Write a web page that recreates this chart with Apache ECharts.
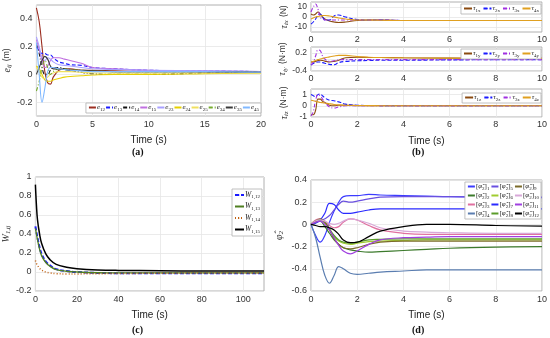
<!DOCTYPE html>
<html><head><meta charset="utf-8">
<script src="https://cdn.jsdelivr.net/npm/echarts@6/dist/echarts.min.js"></script>
<style>html,body{margin:0;padding:0;background:#fff}#c{width:550px;height:338px}</style>
</head><body><div id="c"></div>
<script>
// ---------- Panel (a) data ----------
const tA = [0, 0.25, 0.5, 0.75, 1, 1.25, 1.5, 2, 2.5, 3, 4, 5, 7, 10, 15, 20];
const e12 = [0.48, 0.38, 0.2, 0.02, -0.06, -0.07, -0.02, 0.03, 0.04, 0.04, 0.03, 0.03, 0.025, 0.022, 0.02, 0.02];
const e13 = [0.2, 0.17, 0.15, 0.15, 0.14, 0.14, 0.12, 0.09, 0.08, 0.07, 0.065, 0.05, 0.04, 0.03, 0.025, 0.02];
const e14 = [0.22, 0.15, 0.05, 0.0, 0.0, 0.03, 0.05, 0.05, 0.04, 0.03, 0.015, 0.005, 0.0, 0.0, 0.01, 0.015];
const e15 = [0.25, 0.18, 0.1, 0.05, 0.06, 0.1, 0.12, 0.12, 0.11, 0.1, 0.08, 0.05, 0.04, 0.03, 0.025, 0.02];
const e23 = [0.27, 0.2, 0.12, 0.1, 0.12, 0.11, 0.09, 0.07, 0.065, 0.06, 0.05, 0.04, 0.035, 0.03, 0.025, 0.02];
const e24 = [0.06, 0.04, 0.0, -0.04, -0.05, -0.05, -0.04, -0.03, -0.02, -0.015, -0.01, -0.005, 0, 0, 0.005, 0.01];
const e25 = [0.05, 0.02, -0.02, -0.03, -0.02, 0.0, 0.01, 0.02, 0.02, 0.02, 0.015, 0.01, 0.01, 0.01, 0.01, 0.01];
const e34 = [-0.12, -0.05, 0.05, 0.1, 0.05, 0.0, 0.02, 0.04, 0.04, 0.035, 0.03, 0.025, 0.02, 0.02, 0.02, 0.015];
const e35 = [0.0, 0.05, 0.1, 0.13, 0.11, 0.06, 0.04, 0.04, 0.035, 0.03, 0.03, 0.025, 0.02, 0.02, 0.02, 0.015];
const e45 = [0.23, 0.0, -0.2, -0.1, 0.02, 0.05, 0.05, 0.04, 0.035, 0.03, 0.025, 0.02, 0.02, 0.02, 0.02, 0.015];
const yTicksA = [-0.2, 0, 0.2, 0.4];

// ---------- Panel (b) data ----------
const tB = [0, 0.1, 0.2, 0.3, 0.4, 0.5, 0.6, 0.8, 1.0, 1.2, 1.5, 2, 2.5, 3, 4, 6, 10];
const tau1x = [3, 2, 3, 5, 3, 0, -2, -4, -5, -5.5, -5, -3.5, -3, -3, -3.5, -3.5, -3.5];
const tau2x = [-7, -5, -2, 2, 3, 0, -3, -3, 1, 2, 0, -2.5, -3, -3, -3.5, -3.5, -3.5];
const tau3x = [5, 10, 13, 8, 0, -2, -3, -3, -3, -3, -3, -3, -3, -3, -3.5, -3.5, -3.5];
const tau4x = [-2, -1, 0, 0.5, 1, 1.5, 1.5, 1, 0, -1, -2, -3, -3, -3.2, -3.5, -3.5, -3.5];
const tau1y = [-0.1, -0.1, -0.08, -0.05, -0.04, -0.05, -0.07, -0.1, -0.08, -0.04, 0.04, 0.06, 0.05, 0.05, 0.04, 0.03, 0.02];
const tau2y = [-0.2, -0.15, -0.12, -0.1, -0.1, -0.12, -0.14, -0.18, -0.19, -0.12, -0.08, -0.06, -0.05, -0.04, -0.04, -0.03, -0.02];
const tau3y = [-0.2, -0.1, 0.1, 0.3, 0.28, 0.1, 0.0, -0.08, -0.06, -0.03, -0.02, -0.02, -0.02, -0.02, -0.02, -0.02, -0.02];
const tau4y = [-0.1, -0.08, -0.05, -0.02, 0.0, 0.02, 0.04, 0.07, 0.1, 0.12, 0.12, 0.08, 0.06, 0.05, 0.04, 0.03, 0.02];
const tau1z = [-0.8, -0.8, -0.4, 0.6, 0.6, 0.4, 0.3, 0.05, 0.0, 0.05, 0.05, 0.02, 0, 0, 0, 0, 0];
const tau2z = [1.0, 0.9, 0.8, 1.0, 1.05, 0.9, 0.7, 0.5, 0.45, 0.35, 0.15, 0.05, 0.03, 0.02, 0.02, 0, 0];
const tau3z = [-0.9, -0.5, 0.5, 1.0, 0.9, 0.6, 0.3, -0.1, -0.2, -0.1, 0.0, 0.02, 0, 0, 0, 0, 0];
const tau4z = [0.5, 0.45, 0.4, 0.35, 0.3, 0.28, 0.25, 0.18, 0.12, 0.08, 0.05, 0.03, 0.02, 0.01, 0, 0, 0];
const yTicksB1 = [-10, 0, 10];
const yTicksB2 = [-0.4, -0.2, 0, 0.2];
const yTicksB3 = [-1, 0, 1];

// ---------- Panel (c) data ----------
const tC = [0, 0.5, 1, 2, 3, 5, 7, 10, 15, 20, 30, 40, 60, 80, 110];
const W12 = [0.48, 0.42, 0.36, 0.26, 0.19, 0.11, 0.07, 0.03, 0.01, 0.0, -0.01, -0.012, -0.012, -0.012, -0.012];
const W13 = [0.46, 0.4, 0.34, 0.24, 0.17, 0.1, 0.06, 0.025, 0.008, 0.0, -0.008, -0.01, -0.01, -0.01, -0.01];
const W14 = [0.12, 0.09, 0.07, 0.04, 0.02, 0.0, -0.01, -0.018, -0.02, -0.02, -0.018, -0.016, -0.013, -0.011, -0.01];
const W15 = [0.92, 0.7, 0.55, 0.4, 0.3, 0.19, 0.13, 0.08, 0.05, 0.035, 0.022, 0.017, 0.013, 0.011, 0.01];
const xTicksC = [0, 20, 40, 60, 80, 100];

// ---------- Panel (d) data ----------
const tD = [0, 0.2, 0.4, 0.6, 0.8, 1.0, 1.2, 1.4, 1.7, 2.0, 2.5, 3, 4, 5, 6, 8, 10];
const p1 = [0, -0.1, -0.16, -0.1, 0.02, 0.12, 0.2, 0.25, 0.26, 0.26, 0.27, 0.265, 0.26, 0.255, 0.25, 0.245, 0.24];
const p2 = [0, 0.03, 0.03, -0.02, -0.08, -0.14, -0.18, -0.21, -0.23, -0.24, -0.25, -0.245, -0.235, -0.225, -0.215, -0.205, -0.2];
const p3 = [0, 0.04, 0.05, 0.03, -0.01, -0.03, -0.02, 0.02, 0.05, 0.04, -0.01, -0.05, -0.08, -0.09, -0.09, -0.09, -0.09];
const p4 = [0, -0.12, -0.3, -0.46, -0.53, -0.46, -0.38, -0.4, -0.44, -0.45, -0.44, -0.43, -0.42, -0.41, -0.41, -0.41, -0.41];
const p5 = [0, 0.02, 0.03, 0.05, 0.08, 0.13, 0.18, 0.21, 0.2, 0.21, 0.23, 0.245, 0.25, 0.25, 0.25, 0.245, 0.245];
const p6 = [0, 0.03, 0.04, 0.01, -0.05, -0.11, -0.15, -0.17, -0.18, -0.17, -0.155, -0.15, -0.145, -0.14, -0.14, -0.14, -0.14];
const p7 = [0, 0.01, 0.04, 0.1, 0.19, 0.18, 0.13, 0.1, 0.1, 0.11, 0.13, 0.14, 0.14, 0.14, 0.14, 0.14, 0.14];
const p8 = [0, 0.02, 0.04, 0.02, -0.04, -0.1, -0.14, -0.16, -0.17, -0.16, -0.14, -0.135, -0.13, -0.13, -0.13, -0.13, -0.13];
const p9 = [0, 0.03, 0.05, 0.02, -0.05, -0.13, -0.18, -0.21, -0.22, -0.21, -0.18, -0.16, -0.15, -0.15, -0.15, -0.15, -0.15];
const p10 = [0, 0.03, 0.04, 0.03, 0.01, 0.0, 0.01, 0.03, 0.05, 0.04, 0.01, -0.03, -0.06, -0.07, -0.075, -0.08, -0.08];
const p11 = [0, 0.02, 0.03, 0.0, -0.05, -0.12, -0.19, -0.24, -0.265, -0.24, -0.18, -0.14, -0.12, -0.115, -0.11, -0.11, -0.11];
const p12 = [0, -0.01, -0.02, -0.02, -0.03, -0.05, -0.09, -0.14, -0.165, -0.16, -0.11, -0.06, -0.02, 0.0, 0.0, -0.01, -0.015];

// ---------- Styling helpers ----------
const SANS = "'Liberation Sans', Arial, sans-serif";
const SERIF = "'Liberation Serif', 'DejaVu Serif', serif";
const DASH = { solid: 'solid', dash: [4, 2], dashdot: [4, 2, 1, 2], dot: [1, 2] };
const pairs = (t, v) => t.map((x, i) => [x, v[i]]);
const series = [];
function addLine(name, t, v, color, dash, width, gi) {
  series.push({
    name: name, type: 'line', xAxisIndex: gi, yAxisIndex: gi, data: pairs(t, v),
    smooth: 0.4, symbol: 'none', animation: false,
    lineStyle: { color: color, width: width, type: DASH[dash] },
    itemStyle: { color: color }
  });
}
function richSub(fs, ss) {
  return {
    i: { fontFamily: SERIF, fontStyle: 'italic', fontSize: fs, color: '#222' },
    n: { fontFamily: SERIF, fontSize: fs, color: '#222' },
    s: { fontFamily: SERIF, fontSize: ss, color: '#222', padding: [4, 0, 0, 0] }
  };
}
const labelMap = {};
function lab(name, main, sub) {
  labelMap[name] = '{i|' + main + '}{s|' + sub + '}';
}

// panel a
const aNames = ['e12','e13','e14','e15','e23','e24','e25','e34','e35','e45'];
const aVals = [e12,e13,e14,e15,e23,e24,e25,e34,e35,e45];
const aCol = ['#9b2d20','#1a1aff','#111111','#c070e0','#a8a0ff','#e6d000','#f0e060','#77ac30','#3a3a3a','#80b8ff'];
const aDash = ['solid','dash','dashdot','solid','solid','solid','solid','dashdot','solid','solid'];
aNames.forEach((n, k) => { addLine(n, tA, aVals[k], aCol[k], aDash[k], 1.1, 0); lab(n, 'e', n.slice(1)); });

// panel b
const bCol = ['#8b4a10', '#1a1aff', '#a030e0', '#e0a020'];
const bDash = ['solid', 'dash', 'dashdot', 'solid'];
const bSets = [[tau1x, tau2x, tau3x, tau4x], [tau1y, tau2y, tau3y, tau4y], [tau1z, tau2z, tau3z, tau4z]];
const axes = ['x', 'y', 'z'];
bSets.forEach((set, g) => set.forEach((v, k) => {
  const n = 'τ' + (k + 1) + axes[g];
  addLine(n, tB, v, bCol[k], bDash[k], 1.1, g + 1);
  lab(n, 'τ', (k + 1) + axes[g]);
}));

// panel c
const cNames = ['W1,12', 'W1,13', 'W1,14', 'W1,15'];
const cVals = [W12, W13, W14, W15];
const cCol = ['#1a1aff', '#4f7f20', '#c06010', '#000000'];
const cDash = ['dash', 'solid', 'dot', 'solid'];
const cW = [2, 1.3, 1.5, 1.5];
cNames.forEach((n, k) => { addLine(n, tC, cVals[k], cCol[k], cDash[k], cW[k], 4); lab(n, 'W', n.slice(1)); });

// panel d
const dVals = [p1,p2,p3,p4,p5,p6,p7,p8,p9,p10,p11,p12];
const dCol = ['#3c3cff','#3c7a2c','#e070a0','#5a7db0','#6a50e0','#a0cc30','#2a2aff','#5b9c2a','#7b6b2a','#d8a8d8','#a040e0','#000000'];
const dNames = dVals.map((v, k) => 'φ' + (k + 1));
dNames.forEach((n, k) => { addLine(n, tD, dVals[k], dCol[k], 'solid', 1.2, 5); labelMap[n] = '{n|[}{i|φ̂}{s|2}{n|]}{s|' + (k + 1) + '}'; });

// ---------- Layout ----------
const grids = [
  { left: 30, top: 5, width: 231, height: 111 },
  { left: 311, top: 2, width: 231, height: 30 },
  { left: 311, top: 47, width: 231, height: 24 },
  { left: 311, top: 89, width: 231, height: 28 },
  { left: 30, top: 177, width: 234, height: 114 },
  { left: 311, top: 180, width: 231, height: 111 }
].map(g => Object.assign({ show: true, borderColor: '#b0b0b0', borderWidth: 1, containLabel: false }, g));

const gridLine = { show: true, lineStyle: { color: '#e6e6e6', width: 0.8 } };
const tickLbl = { fontSize: 9, color: '#333', fontFamily: SANS, margin: 4, hideOverlap: false, showMinLabel: true, showMaxLabel: true };
function xAx(gi, max, interval, name) {
  return {
    type: 'value', gridIndex: gi, min: 0, max: max, interval: interval,
    axisLine: { show: false }, axisTick: { show: false }, splitLine: gridLine,
    axisLabel: Object.assign({}, tickLbl),
    name: name || '', nameLocation: 'middle', nameGap: 19,
    nameTextStyle: { fontSize: 10, color: '#222', fontFamily: SANS }
  };
}
function yAx(gi, min, max, ticks, nameRich, gap) {
  return {
    type: 'value', gridIndex: gi, min: min, max: max,
    axisLine: { show: false },
    axisTick: { show: false, customValues: ticks },
    axisLabel: Object.assign({}, tickLbl, { customValues: ticks, fontSize: 9 }),
    splitLine: gridLine,
    name: nameRich, nameLocation: 'middle', nameRotate: 90, nameGap: gap,
    nameTextStyle: { rich: {
      i: { fontFamily: SERIF, fontStyle: 'italic', fontSize: 10, color: '#333' },
      n: { fontFamily: SANS, fontSize: 8.5, color: '#333' },
      s: { fontFamily: SERIF, fontStyle: 'italic', fontSize: 6.5, color: '#333', padding: [5, 0, 0, 0] }
    } }
  };
}

const xAxes = [
  xAx(0, 20, 5, 'Time (s)'),
  xAx(1, 10, 2), xAx(2, 10, 2), xAx(3, 10, 2, 'Time (s)'),
  xAx(4, 110, 10, 'Time (s)'),
  xAx(5, 10, 2, 'Time (s)')
];
xAxes[1].axisLabel.margin = 3; xAxes[2].axisLabel.margin = 3; xAxes[3].axisLabel.margin = 3;
xAxes[4].axisLabel.customValues = xTicksC;
xAxes[4].axisTick.customValues = xTicksC;
const yAxes = [
  yAx(0, -0.3, 0.5, yTicksA, '{i|e}{s|ij} {n|(m)}', 19),
  yAx(1, -15, 15, yTicksB1, '{i|τ}{s|ix} {n|(N)}', 21),
  yAx(2, -0.4, 0.4, yTicksB2, '{i|τ}{s|iy} {n|(N·m)}', 22),
  yAx(3, -1, 1.5, yTicksB3, '{i|τ}{s|iz} {n|(N·m)}', 21),
  yAx(4, -0.2, 1, [-0.2, 0, 0.2, 0.4, 0.6, 0.8, 1], '{i|W}{s|1,ij}', 13),
  yAx(5, -0.6, 0.4, [-0.6, -0.4, -0.2, 0, 0.2, 0.4], '{i|φ̂}{s|2}', 26)
];
yAxes[1].axisLabel.fontSize = 8.5; yAxes[2].axisLabel.fontSize = 8.5; yAxes[3].axisLabel.fontSize = 8.5;

function legend(data, pos, fs, ss, extra) {
  return Object.assign({
    data: data, itemWidth: 8, itemHeight: 1, itemGap: 2, padding: [1, 2],
    backgroundColor: '#fff', borderColor: '#b0b0b0', borderWidth: 0.8, borderRadius: 0,
    textStyle: { rich: richSub(fs, ss), padding: [0, 0, 0, -4] },
    formatter: n => labelMap[n], selectedMode: false
  }, pos, extra || {});
}
const legends = [
  legend(aNames, { right: 289, top: 103 }, 7, 5, { itemGap: 0, itemWidth: 7 }),
  legend(bSets[0].map((v, k) => 'τ' + (k + 1) + 'x'), { right: 9, top: 4 }, 7, 5),
  legend(bSets[1].map((v, k) => 'τ' + (k + 1) + 'y'), { right: 9, top: 49 }, 7, 5),
  legend(bSets[2].map((v, k) => 'τ' + (k + 1) + 'z'), { right: 9, top: 93 }, 7, 5),
  legend(cNames, { left: 232, top: 189 }, 7.5, 5, { orient: 'vertical', itemGap: 3, itemWidth: 9, padding: [2, 2] }),
  legend(dNames, { right: 9, top: 182 }, 7, 5, { orient: 'vertical', height: 40, itemGap: 1, itemWidth: 7 })
];

const captions = [['(a)', 140, 154], ['(b)', 420, 154], ['(c)', 140, 332], ['(d)', 420, 332]].map(c => ({
  type: 'text', left: c[1] - 8, top: c[2] - 7,
  style: { text: c[0], fontSize: 10, fontWeight: 'bold', fontFamily: SERIF, fill: '#111' }
}));

const chart = echarts.init(document.getElementById('c'), null, { renderer: 'canvas' });
chart.setOption({
  animation: false, backgroundColor: '#fff',
  grid: grids, xAxis: xAxes, yAxis: yAxes, legend: legends, series: series, graphic: captions
});
</script></body></html>
